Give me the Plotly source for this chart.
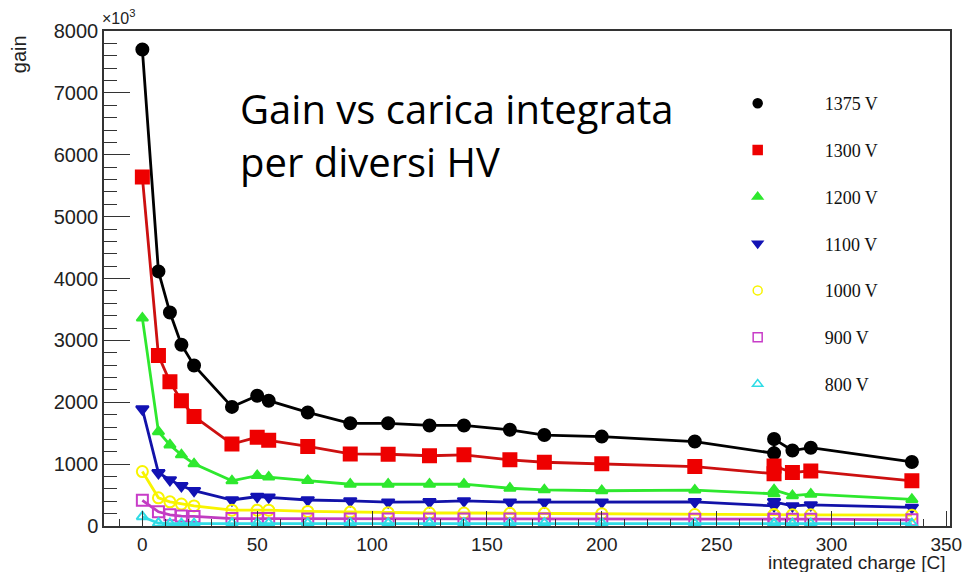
import plotly.graph_objects as go

# integrated charge [C]
charge = [0, 7, 12, 17, 22.5, 39, 50, 55, 72, 90.5, 107, 125, 140, 160, 175, 200,
          240.5, 275, 275, 283, 291, 335]

gain_1375 = [7700, 4115, 3450, 2930, 2595, 1925, 2105, 2025, 1835, 1660, 1660, 1625,
             1625, 1555, 1470, 1445, 1365, 1175, 1405, 1220, 1265, 1035]
gain_1300 = [5640, 2755, 2330, 2025, 1770, 1325, 1435, 1385, 1285, 1165, 1160, 1135,
             1150, 1070, 1030, 1005, 960, 845, 970, 865, 890, 730]
gain_1200 = [3360, 1525, 1310, 1150, 1005, 730, 815, 790, 735, 675, 675, 675,
             675, 610, 585, 570, 580, 520, 585, 490, 515, 430]
gain_1100 = [1890, 860, 745, 650, 570, 420, 475, 465, 420, 405, 385, 390,
             405, 385, 385, 385, 390, 325, 390, 325, 340, 300]
gain_1000 = [880, 455, 390, 355, 325, 255, 255, 255, 235, 225, 215, 210,
             210, 205, 205, 200, 185, 180, 185, 180, 180, 175]
gain_900 = [415, 230, 180, 160, 155, 120, 120, 120, 115, 115, 115, 115,
            115, 115, 115, 110, 110, 110, 110, 110, 110, 100]
gain_800 = [150, 45, 40, 40, 40, 45, 45, 45, 45, 45, 45, 45,
            45, 45, 45, 45, 40, 40, 40, 40, 40, 40]

labels = ["1375 V", "1300 V", "1200 V", "1100 V", "1000 V", "900 V", "800 V"]
series = [gain_1375, gain_1300, gain_1200, gain_1100, gain_1000, gain_900, gain_800]
colors = ["#000000", "#ee0000", "#2ee82e", "#1212b4", "#f8f400", "#c83cc8", "#30dce6"]
line_colors = ["#000000", "#cc1010", "#2ee82e", "#1212a8", "#f8f400", "#c03cc0", "#30dce6"]
symbols = ["circle", "square", "triangle-up", "triangle-down", "circle-open",
           "square-open", "triangle-up-open"]
sizes = [12, 13, 10, 11, 11, 11, 10]

fig = go.Figure()
for lab, ys, col, lcol, sym, sz in zip(labels, series, colors, line_colors, symbols, sizes):
    fig.add_trace(go.Scatter(
        x=charge, y=ys, mode="lines+markers", name=lab, showlegend=False,
        line=dict(color=lcol, width=2.8),
        marker=dict(symbol=sym, size=sz, color=col, line=dict(color=col, width=2)),
        cliponaxis=False,
    ))
# legend entries (marker only, like the ROOT legend)
for lab, col, sym in zip(labels, colors, symbols):
    fig.add_trace(go.Scatter(
        x=[None], y=[None], mode="markers", name=lab, legendgroup=lab,
        marker=dict(symbol=sym, size=9, color=col, line=dict(color=col, width=1.5)),
    ))

fig.update_layout(
    width=974, height=572,
    margin=dict(l=104, r=12, t=31, b=46),
    paper_bgcolor="white", plot_bgcolor="white",
    font=dict(family="Liberation Sans, Arial", size=19, color="#222"),
    showlegend=True,
    legend=dict(
        x=(699 - 104) / 858, y=(526 - 85) / 495, xanchor="left", yanchor="top",
        font=dict(family="Liberation Serif, Times New Roman", size=18, color="#111"),
        itemwidth=124, tracegroupgap=20.4, bgcolor="rgba(0,0,0,0)",
        traceorder="grouped",
    ),
    xaxis=dict(
        range=[-16.7, 351.6], dtick=50, tick0=0,
        ticks="inside", ticklen=15, tickwidth=1.3, tickcolor="#333",
        minor=dict(dtick=10, ticks="inside", ticklen=7.5, tickwidth=1.1, tickcolor="#333"),
        showline=True, linecolor="#333", linewidth=1.5, mirror=True,
        showgrid=False, zeroline=False,
        tickfont=dict(size=19),
    ),
    yaxis=dict(
        range=[0, 8000], dtick=1000, tick0=0,
        ticks="inside", ticklen=26, tickwidth=1.3, tickcolor="#333",
        minor=dict(dtick=200, ticks="inside", ticklen=13, tickwidth=1.1, tickcolor="#333"),
        showline=True, linecolor="#333", linewidth=1.5, mirror=True,
        showgrid=False, zeroline=False,
        tickfont=dict(size=20),
    ),
)

fig.add_annotation(text="gain", xref="paper", yref="paper",
                   x=(18 - 104) / 858, y=(526 - 33) / 495, xanchor="center", yanchor="top",
                   textangle=-90, showarrow=False, font=dict(size=20, color="#222"))
fig.add_annotation(text="integrated charge [C]", xref="paper", yref="paper",
                   x=(959 - 104) / 858, y=(526 - 562) / 495, xanchor="right", yanchor="middle",
                   showarrow=False, font=dict(size=19, color="#222"))
fig.add_annotation(text="×10<sup>3</sup>", xref="paper", yref="paper",
                   x=(100 - 104) / 858, y=(526 - 29) / 495, xanchor="left", yanchor="bottom",
                   showarrow=False, font=dict(size=16, color="#222"))
fig.add_annotation(text="Gain vs carica integrata", xref="paper", yref="paper",
                   x=(240 - 104) / 858, y=(526 - 108) / 495, xanchor="left", yanchor="middle",
                   showarrow=False, font=dict(family="Open Sans", size=40, color="#000"))
fig.add_annotation(text="per diversi HV", xref="paper", yref="paper",
                   x=(240 - 104) / 858, y=(526 - 161) / 495, xanchor="left", yanchor="middle",
                   showarrow=False, font=dict(family="Open Sans", size=40, color="#000"))

fig.write_html("out.html")
